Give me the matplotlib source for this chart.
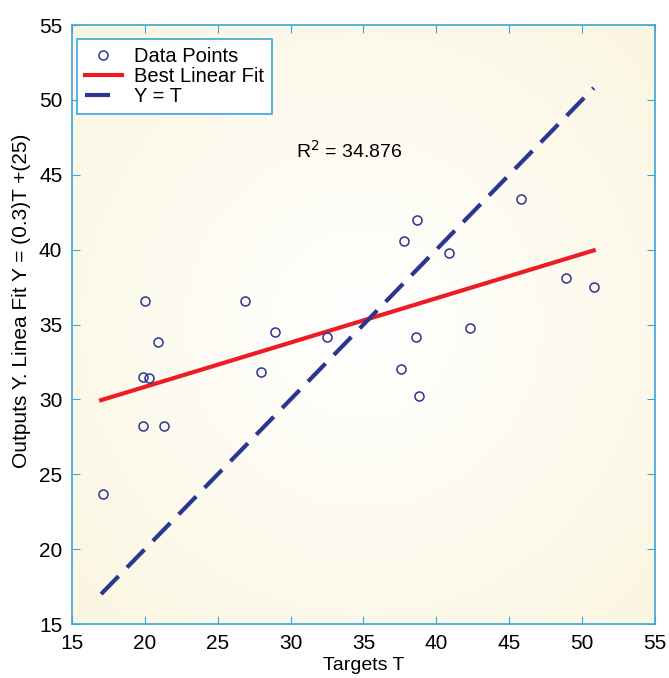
import numpy as np
import matplotlib.pyplot as plt

plt.rcParams['font.family'] = ['Liberation Sans', 'DejaVu Sans']

# data points (targets T, outputs Y)
targets = [17.1, 20.0, 19.9, 20.3, 20.9, 19.9, 21.3, 26.9, 28.9, 28.0, 32.5,
           38.7, 37.8, 40.9, 45.8, 48.9, 50.8, 42.3, 38.6, 37.6, 38.8]
outputs = [23.7, 36.6, 31.5, 31.4, 33.8, 28.2, 28.2, 36.6, 34.5, 31.8, 34.2,
           42.0, 40.6, 39.8, 43.4, 38.1, 37.5, 34.8, 34.2, 32.0, 30.2]

# line endpoints
fit_x = [17.0, 50.8]
fit_y = [29.95, 39.95]
ident_x = [17.0, 50.8]
ident_y = [17.0, 50.8]

xticks = [15, 20, 25, 30, 35, 40, 45, 50, 55]
yticks = [15, 20, 25, 30, 35, 40, 45, 50, 55]

fig = plt.figure(figsize=(6.69, 6.78), dpi=100)
ax = fig.add_axes([0.1076, 0.0796, 0.8714, 0.8835])

# radial background gradient
gx, gy = np.meshgrid(np.linspace(0, 1, 300), np.linspace(0, 1, 300))
r = np.sqrt((gx - 0.5) ** 2 + (gy - 0.5) ** 2) / 0.707
r = np.clip(r, 0, 1)
c_in = np.array([1.0, 1.0, 1.0])
c_out = np.array([0.985, 0.965, 0.880])
img = c_in[None, None, :] * (1 - r[..., None]) + c_out[None, None, :] * r[..., None]
ax.imshow(img, extent=[0, 1, 0, 1], transform=ax.transAxes, aspect='auto', zorder=0)

ax.plot(targets, outputs, 'o', ms=6.5, mfc='none', mec='#2b3592', mew=1.1,
        label='Data Points', zorder=3)
ax.plot(fit_x, fit_y, color='#ed1c24', lw=3.0, label='Best Linear Fit', zorder=2)
ax.plot(ident_x, ident_y, color='#2b3592', lw=3.0, dashes=(6.0, 2.9),
        label='Y = T', zorder=2)

ax.text(30.4, 46.6, 'R$^2$ = 34.876', fontsize=14, va='center', ha='left')

ax.set_xlim(15, 55)
ax.set_ylim(15, 55)
ax.set_xticks(xticks)
ax.set_yticks(yticks)
ax.tick_params(direction='in', top=True, right=True, length=6, color='#3aa6dd',
               labelsize=15, pad=7)
for s in ax.spines.values():
    s.set_color('#3aa6dd')
    s.set_linewidth(1.2)

ax.set_xlabel('Targets T', fontsize=14, labelpad=3)
ax.set_ylabel('Outputs Y. Linea Fit Y = (0.3)T +(25)', fontsize=15)
ax.yaxis.set_label_coords(-0.07, 0.54)

leg = ax.legend(loc='upper left', bbox_to_anchor=(0.008, 0.977), borderaxespad=0,
                fontsize=14.5, frameon=True, fancybox=False, handlelength=1.85,
                labelspacing=0.05, borderpad=0.4, handletextpad=0.6)
leg.get_frame().set_edgecolor('#3aa6dd')
leg.get_frame().set_linewidth(1.2)
leg.get_frame().set_facecolor('white')
leg.get_frame().set_alpha(1)

fig.savefig('out.png', dpi=100)
